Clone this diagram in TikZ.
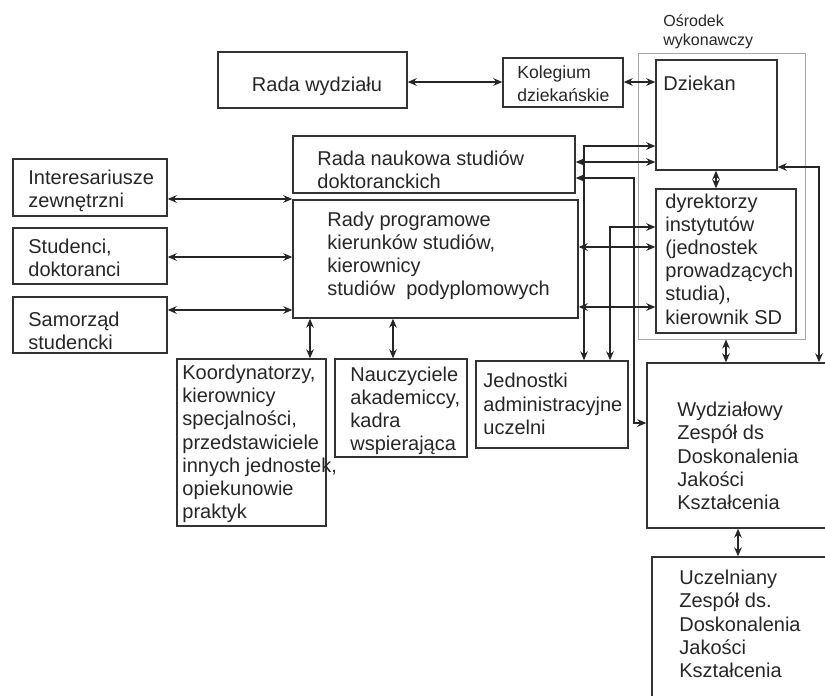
\documentclass[tikz,border=0pt]{standalone}
\usepackage{fontspec}
\setmainfont{Liberation Sans}
\usetikzlibrary{arrows.meta,fit}

\tikzset{
  box/.style={draw=black!80,line width=0.7pt,inner sep=0pt},
  frame/.style={draw=black!35,line width=0.5pt,inner sep=0pt},
  txt/.style={font=\fontsize{10}{11.6}\selectfont,align=left,inner sep=0pt,anchor=west,text=black!85},
  dbl/.style={{Stealth[length=4.5pt,width=3.8pt]}-{Stealth[length=4.5pt,width=3.8pt]},line width=0.7pt,draw=black!85},
}

\begin{document}
\begin{tikzpicture}[x=0.5pt,y=-0.5pt]
\clip (0,0) rectangle (825,696);
% executive frame
\node[frame,fit={(638,53) (805,339)}] (osrodek) {};
\node[txt,font=\fontsize{8}{9.6}\selectfont] (t-osrodek) at (663,32) {Ośrodek\\wykonawczy};
% boxes
\node[box,fit={(218,52) (407,108)}] (rwydz) {};
\node[box,fit={(503,58) (623,107)}] (koleg) {};
\node[box,fit={(656,60) (777,170)}] (dziekan) {};
\node[box,fit={(293,136) (575,193)}] (rnauk) {};
\node[box,fit={(293,200) (578,318)}] (rprog) {};
\node[box,fit={(656,189) (796,333)}] (dyr) {};
\node[box,fit={(13,159) (167,216)}] (inter) {};
\node[box,fit={(13,228) (167,284)}] (stud) {};
\node[box,fit={(13,297) (167,353)}] (samo) {};
\node[box,fit={(177,359) (326,526)}] (koord) {};
\node[box,fit={(335,359) (467,457)}] (naucz) {};
\node[box,fit={(476,361) (628,448)}] (jedn) {};
\node[box,fit={(647,363) (832,528)}] (wydz) {};
\node[box,fit={(652,557) (832,720)}] (uczel) {};
% texts
\node[txt,anchor=center] (t-rwydz) at (317,86) {Rada wydziału};
\node[txt,font=\fontsize{8.8}{11.5}\selectfont] (t-koleg) at (517,84) {Kolegium\\dziekańskie};
\node[txt] (t-dziekan) at (663,83) {Dziekan};
\node[txt] (t-rnauk) at (317,170) {Rada naukowa studiów\\doktoranckich};
\node[txt] (t-rprog) at (327,256) {Rady programowe\\kierunków studiów,\\kierownicy\\studiów\ \ podyplomowych};
\node[txt] (t-dyr) at (665,259) {dyrektorzy\\instytutów\\(jednostek\\prowadzących\\studia),\\kierownik SD};
\node[txt] (t-inter) at (28,191) {Interesariusze\\zewnętrzni};
\node[txt] (t-stud) at (28,258) {Studenci,\\doktoranci};
\node[txt] (t-samo) at (28,331) {Samorząd\\studencki};
\node[txt] (t-koord) at (182,444) {Koordynatorzy,\\kierownicy\\specjalności,\\przedstawiciele\\innych jednostek,\\opiekunowie\\praktyk};
\node[txt] (t-naucz) at (350,411) {Nauczyciele\\akademiccy,\\kadra\\wspierająca};
\node[txt] (t-jedn) at (483,404) {Jednostki\\administracyjne\\uczelni};
\node[txt] (t-wydz) at (677,456) {Wydziałowy\\Zespół ds\\Doskonalenia\\Jakości\\Kształcenia};
\node[txt] (t-uczel) at (679,624) {Uczelniany\\Zespół ds.\\Doskonalenia\\Jakości\\Kształcenia};
% connectors
\draw[dbl] (rwydz.east |- 0,82) -- (koleg.west |- 0,82);
\draw[dbl] (koleg.east |- 0,82) -- (dziekan.west |- 0,82);
\draw[dbl] (rnauk.east |- 0,162) -- (dziekan.west |- 0,162);
\draw[dbl] (jedn.north -| 584,0) |- (dziekan.west |- 0,146);
\draw[dbl] (rnauk.east |- 0,178) -| (634,300) |- (wydz.west |- 0,423);
\draw[dbl] (jedn.north -| 610,0) |- (dyr.west |- 0,227);
\draw[dbl] (rprog.east |- 0,247) -- (dyr.west |- 0,247);
\draw[dbl] (rprog.east |- 0,307) -- (dyr.west |- 0,307);
\draw[dbl] (dziekan.south -| 716,0) -- (dyr.north -| 716,0);
\draw[dbl] (osrodek.south -| 726,0) -- (wydz.north -| 726,0);
\draw[dbl] (dziekan.east |- 0,167) -| (wydz.north -| 819,0);
\draw[dbl] (wydz.south -| 738,0) -- (uczel.north -| 738,0);
\draw[dbl] (rprog.south -| 310,0) -- (koord.north -| 310,0);
\draw[dbl] (rprog.south -| 393,0) -- (naucz.north -| 393,0);
\draw[dbl] (inter.east |- 0,199) -- (rprog.west |- 0,199);
\draw[dbl] (stud.east |- 0,257) -- (rprog.west |- 0,257);
\draw[dbl] (samo.east |- 0,310) -- (rprog.west |- 0,310);
\end{tikzpicture}
\end{document}
